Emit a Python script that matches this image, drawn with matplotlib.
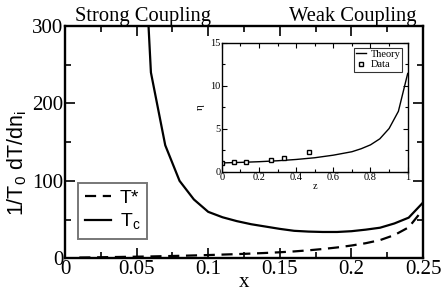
import numpy as np
import matplotlib.pyplot as plt
from matplotlib.ticker import MultipleLocator

# main panel data
x_tc = [0.05, 0.06, 0.07, 0.08, 0.09, 0.10, 0.11, 0.12, 0.13, 0.14, 0.15,
        0.16, 0.17, 0.18, 0.19, 0.20, 0.21, 0.22, 0.23, 0.24, 0.25]
tc = [600, 240, 146, 100, 76, 60, 53, 48, 44, 41, 38,
      35.5, 34.5, 34, 34, 35, 37, 39.5, 45, 52.5, 72]

x_ts = [0.01, 0.02, 0.03, 0.04, 0.05, 0.06, 0.07, 0.08, 0.09, 0.10, 0.11, 0.12, 0.13,
        0.14, 0.15, 0.16, 0.17, 0.18, 0.19, 0.20, 0.21, 0.22, 0.23, 0.24, 0.25]
tstar = [1.0, 1.2, 1.5, 1.8, 2.1, 2.4, 2.8, 3.2, 3.7, 4.2, 4.8, 5.4, 6.1,
         6.9, 7.8, 8.9, 10.3, 12, 14, 16.5, 19.5, 23.5, 30, 40, 63]

# inset data
z_th = [0.0, 0.1, 0.2, 0.3, 0.4, 0.5, 0.6, 0.7, 0.75, 0.8, 0.85, 0.9, 0.95, 1.0]
eta_th = [1.0, 1.06, 1.14, 1.25, 1.4, 1.6, 1.9, 2.3, 2.65, 3.1, 3.8, 5.0, 7.0, 11.4]
z_data = [0.0, 0.067, 0.133, 0.267, 0.333, 0.467]
eta_data = [1.0, 1.07, 1.14, 1.3, 1.6, 2.23]

serif = 'Liberation Serif'
sans = 'Liberation Sans'
plt.rcParams['mathtext.fontset'] = 'custom'
plt.rcParams['mathtext.rm'] = sans

fig = plt.figure(figsize=(4.43, 2.95), dpi=100)
ax = fig.add_axes([0.1467, 0.1244, 0.8082, 0.7875])

ax.plot(x_ts, tstar, color='black', lw=1.6, ls=(0, (5, 3)), label='T*')
ax.plot(x_tc, tc, color='black', lw=1.6, label='T$_\\mathrm{c}$')

ax.set_xlim(0, 0.25)
ax.set_ylim(0, 300)
ax.xaxis.set_major_locator(MultipleLocator(0.05))
ax.xaxis.set_minor_locator(MultipleLocator(0.025))
ax.yaxis.set_major_locator(MultipleLocator(100))
ax.yaxis.set_minor_locator(MultipleLocator(50))
ax.set_xticks([0, 0.05, 0.1, 0.15, 0.2, 0.25])
ax.set_xticklabels(['0', '0.05', '0.1', '0.15', '0.2', '0.25'])
ax.tick_params(which='both', direction='in', top=True, right=True, width=1.2,
               labelsize=15, pad=1)
ax.tick_params(which='major', length=7)
ax.tick_params(which='minor', length=4)
for lab in ax.get_xticklabels() + ax.get_yticklabels():
    lab.set_fontfamily(serif)
for s in ax.spines.values():
    s.set_linewidth(1.7)

ax.set_xlabel('x', fontfamily=serif, fontsize=15, labelpad=-4)
ax.set_ylabel('1/T$_\\mathrm{0}$ dT/dn$_\\mathrm{i}$', fontfamily=sans, fontsize=15.5)
ax.yaxis.set_label_coords(-0.1, 0.41)

leg = ax.legend(loc='lower left', bbox_to_anchor=(0.036, 0.083), borderaxespad=0,
                frameon=True, fancybox=False, handlelength=1.35, borderpad=0.35,
                prop={'family': sans, 'size': 14}, labelspacing=0.25, handletextpad=0.45)
leg.get_frame().set_edgecolor('#555555')
leg.get_frame().set_linewidth(1.4)

fig.text(0.323, 0.945, 'Strong Coupling', fontfamily=serif, fontsize=14.8, ha='center', va='center')
fig.text(0.797, 0.945, 'Weak Coupling', fontfamily=serif, fontsize=14.8, ha='center', va='center')

# inset
ins = fig.add_axes([0.5005, 0.4186, 0.4198, 0.4373])
ins.plot(z_th, eta_th, color='black', lw=1.0, label='Theory')
ins.plot(z_data, eta_data, ls='none', marker='s', mfc='white', mec='black',
         ms=3.5, mew=1.0, label='Data')
ins.set_xlim(0, 1)
ins.set_ylim(0, 15)
ins.xaxis.set_major_locator(MultipleLocator(0.2))
ins.xaxis.set_minor_locator(MultipleLocator(0.1))
ins.yaxis.set_major_locator(MultipleLocator(5))
ins.yaxis.set_minor_locator(MultipleLocator(2.5))
ins.set_xticks([0, 0.2, 0.4, 0.6, 0.8, 1])
ins.set_xticklabels(['0', '0.2', '0.4', '0.6', '0.8', '1'])
ins.tick_params(which='both', direction='in', top=True, right=True, width=0.8,
                labelsize=7.5, pad=1)
ins.tick_params(which='major', length=3.5)
ins.tick_params(which='minor', length=2)
for lab in ins.get_xticklabels() + ins.get_yticklabels():
    lab.set_fontfamily(serif)
for s in ins.spines.values():
    s.set_linewidth(1.0)
ins.set_xlabel('z', fontfamily=serif, fontsize=7.5, labelpad=0)
ins.set_ylabel('\u03b7', fontfamily=serif, fontsize=8, labelpad=4)
ileg = ins.legend(loc='upper right', frameon=True, fancybox=False,
                  prop={'family': serif, 'size': 7.5}, handlelength=1.0,
                  borderpad=0.2, labelspacing=0.1, handletextpad=0.4,
                  borderaxespad=0.5)
ileg.get_frame().set_edgecolor('black')
ileg.get_frame().set_linewidth(0.8)

fig.savefig('out.png', dpi=100)
